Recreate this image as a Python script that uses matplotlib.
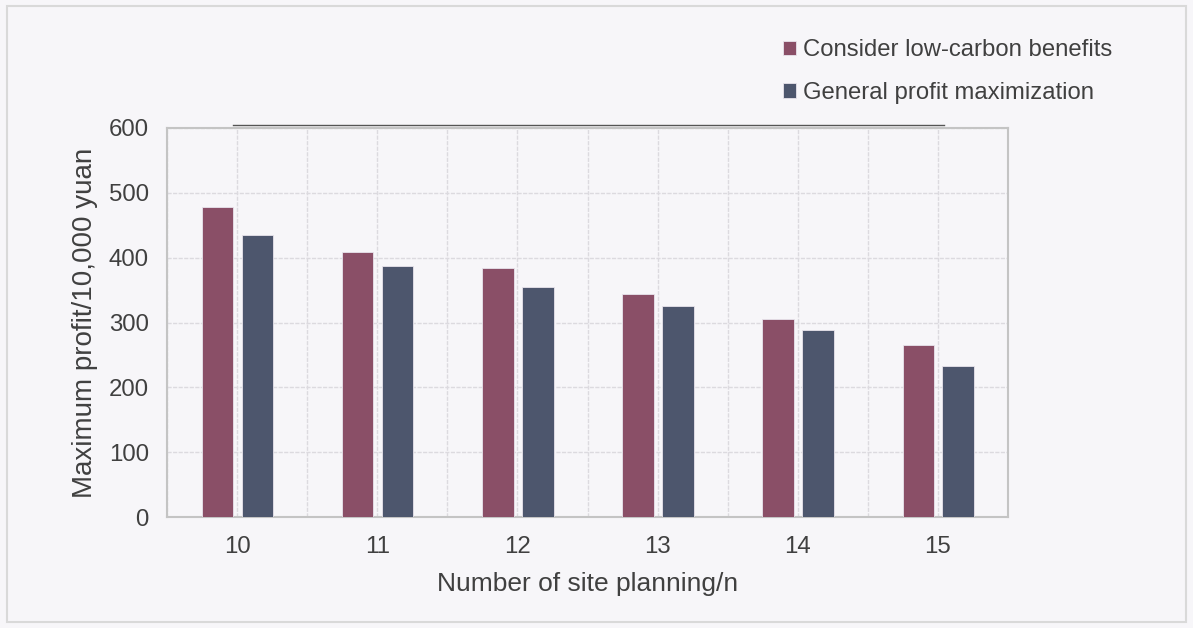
import numpy as np
import matplotlib
matplotlib.use("Agg")
import matplotlib.pyplot as plt
from matplotlib.patches import Rectangle
from matplotlib.lines import Line2D

plt.rcParams['font.family'] = ['Liberation Sans', 'DejaVu Sans']

# data
sites = ['10', '11', '12', '13', '14', '15']
low_carbon = [478, 408, 384, 344, 306, 265]
general = [435, 387, 355, 326, 289, 233]

c_low = '#8a4f67'
c_gen = '#4d566d'
bg = '#f7f6f9'
txt = '#404040'

fig = plt.figure(figsize=(11.93, 6.28), dpi=100, facecolor=bg)
ax = fig.add_axes([167/1193, 1-517/628, (1008-167)/1193, (517-128)/628])
ax.set_facecolor(bg)

x = np.arange(len(sites))
w = 0.225
ax.bar(x - 0.14, low_carbon, w, color=c_low, edgecolor='#e8e4ec', linewidth=0.6,
       label='Consider low-carbon benefits', zorder=3)
ax.bar(x + 0.145, general, w, color=c_gen, edgecolor='#e8e4ec', linewidth=0.6,
       label='General profit maximization', zorder=3)

ax.set_xlim(-0.5, 5.5)
ax.set_ylim(0, 600)
ax.set_yticks(range(0, 601, 100))
ax.set_xticks(x)
ax.set_xticklabels(sites)
ax.set_xticks(np.arange(-0.5, 5.6, 1.0), minor=True)
ax.tick_params(which='both', length=0)
ax.tick_params(axis='both', labelsize=17.3, colors=txt)
ax.tick_params(axis='x', pad=14)
ax.tick_params(axis='y', pad=13)
ax.grid(True, which='both', axis='x', color='#dcdadf', linestyle=(0, (3, 1)), linewidth=1)
ax.grid(True, which='major', axis='y', color='#dcdadf', linestyle=(0, (3, 1)), linewidth=1)
ax.set_axisbelow(True)
for s in ax.spines.values():
    s.set_color('#c4c4c4')
    s.set_linewidth(1.5)

ax.set_xlabel('Number of site planning/n', fontsize=19, color=txt, labelpad=10)
ax.set_ylabel('Maximum profit/10,000 yuan', fontsize=20, color=txt, labelpad=8)

# thin line above the plot area
ax.add_line(Line2D([-0.03, 5.04], [1.008, 1.008], color='#555555', linewidth=1,
                   transform=ax.get_xaxis_transform(), clip_on=False))

leg = fig.legend(loc='upper left', bbox_to_anchor=(761/1193, 1-18/628), frameon=False,
                 fontsize=17.2, labelcolor=txt, handlelength=0.55, handleheight=0.55,
                 handletextpad=0.3, labelspacing=0.85)

fig.add_artist(Rectangle((7/1193, 1-622/628), (1186-7)/1193, (622-6)/628,
                         transform=fig.transFigure, fill=False,
                         edgecolor='#d9d9d9', linewidth=1.5))

fig.savefig('out.png', dpi=100, facecolor=bg)
